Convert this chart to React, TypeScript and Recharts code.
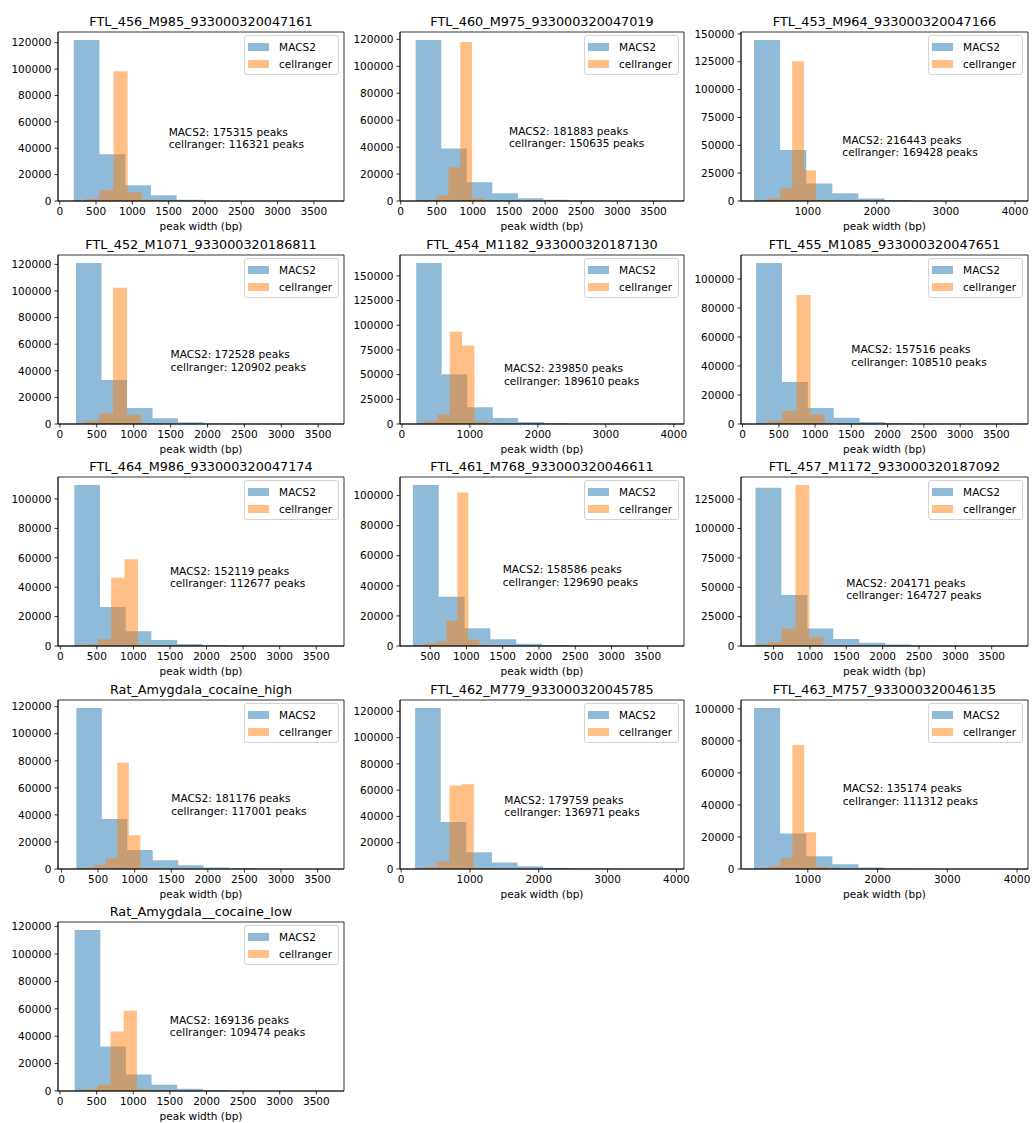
import React from 'react';
import { ComposedChart, Area, XAxis, YAxis, ReferenceArea, ReferenceDot, Legend } from 'recharts';

// ---- data -------------------------------------------------------------

const sampleNames = [
  'FTL_456_M985_933000320047161',
  'FTL_460_M975_933000320047019',
  'FTL_453_M964_933000320047166',
  'FTL_452_M1071_933000320186811',
  'FTL_454_M1182_933000320187130',
  'FTL_455_M1085_933000320047651',
  'FTL_464_M986_933000320047174',
  'FTL_461_M768_933000320046611',
  'FTL_457_M1172_933000320187092',
  'Rat_Amygdala_cocaine_high',
  'FTL_462_M779_933000320045785',
  'FTL_463_M757_933000320046135',
  'Rat_Amygdala__cocaine_low',
];

const macsPeakTotals = [175315, 181883, 216443, 172528, 239850, 157516, 152119, 158586, 204171, 181176, 179759, 135174, 169136];
const cellrangerPeakTotals = [116321, 150635, 169428, 120902, 189610, 108510, 112677, 129690, 164727, 117001, 136971, 111312, 109474];

// min / max peak width (bp) of each call set; 10 equal-width bins span it
const macsWidthRange: [number, number][] = [
  [193, 3736], [208, 3745], [222, 3999], [218, 3674], [210, 3960], [186, 3756], [192, 3702],
  [262, 3822], [250, 3820], [203, 3683], [203, 3923], [230, 3970], [200, 3700],
];
const cellrangerWidthRange: [number, number][] = [
  [155, 2105], [169, 1809], [258, 1978], [150, 2050], [161, 1971], [158, 2108], [146, 1976],
  [271, 1781], [231, 2131], [130, 1710], [171, 1941], [270, 1970], [150, 1950],
];

// peaks per bin
const macsCounts = [
  [122000, 35500, 12000, 4400, 1000, 280, 90, 30, 10, 5],
  [119500, 39000, 14000, 5800, 2000, 900, 400, 180, 80, 23],
  [144500, 45700, 15800, 6900, 2200, 800, 330, 140, 50, 23],
  [121000, 33000, 12000, 4400, 1300, 450, 200, 100, 50, 28],
  [163000, 50500, 17000, 6100, 1900, 700, 350, 180, 90, 30],
  [111000, 29000, 11000, 4300, 1400, 500, 200, 80, 25, 11],
  [109500, 26500, 10000, 4000, 1300, 500, 200, 80, 30, 9],
  [107000, 32800, 11800, 4500, 1500, 600, 250, 90, 35, 11],
  [134800, 43500, 15000, 6000, 2700, 1300, 520, 250, 70, 31],
  [119000, 37000, 14000, 6500, 2700, 1200, 500, 200, 60, 16],
  [122500, 35800, 12800, 5000, 2000, 900, 450, 200, 80, 29],
  [100500, 22200, 8000, 3000, 900, 350, 150, 50, 18, 6],
  [117500, 32500, 12000, 4500, 1700, 600, 220, 80, 28, 8],
];
const cellrangerCounts = [
  [200, 1500, 8300, 98300, 6600, 1000, 300, 80, 30, 11],
  [100, 700, 4000, 25000, 118000, 2200, 400, 150, 60, 25],
  [150, 2400, 11400, 125500, 27500, 1200, 700, 350, 150, 78],
  [200, 2400, 8000, 102500, 7000, 500, 200, 70, 25, 7],
  [300, 3000, 9500, 93500, 79500, 2500, 800, 330, 130, 50],
  [300, 2200, 9000, 89000, 6500, 900, 400, 150, 50, 10],
  [50, 1200, 4600, 46500, 59000, 900, 300, 90, 30, 7],
  [600, 1500, 3000, 17000, 102000, 4200, 900, 300, 150, 40],
  [1200, 3300, 15000, 137000, 7500, 500, 150, 55, 17, 5],
  [100, 1000, 3000, 8000, 78500, 25000, 1000, 300, 80, 21],
  [100, 1700, 5700, 63500, 64500, 1000, 320, 110, 35, 6],
  [80, 1900, 6800, 77500, 23000, 1400, 450, 130, 40, 12],
  [50, 1200, 4500, 43500, 58500, 1200, 380, 110, 28, 6],
];

// tick labels
const xTicksFrom0 = [0, 500, 1000, 1500, 2000, 2500, 3000, 3500];
const xTicksFrom500 = [500, 1000, 1500, 2000, 2500, 3000, 3500];
const xTicksThousands = [0, 1000, 2000, 3000, 4000];
const xTicksFrom1000 = [1000, 2000, 3000, 4000];
const yTicks100k = [0, 20000, 40000, 60000, 80000, 100000];
const yTicks120k = [0, 20000, 40000, 60000, 80000, 100000, 120000];
const yTicks125k = [0, 25000, 50000, 75000, 100000, 125000];
const yTicks150k = [0, 25000, 50000, 75000, 100000, 125000, 150000];

const xTickSets = [
  xTicksFrom0, xTicksFrom0, xTicksFrom1000, xTicksFrom0, xTicksThousands, xTicksFrom0, xTicksFrom0,
  xTicksFrom500, xTicksFrom500, xTicksFrom0, xTicksThousands, xTicksFrom1000, xTicksFrom0,
];
const yTickSets = [
  yTicks120k, yTicks120k, yTicks150k, yTicks120k, yTicks150k, yTicks100k, yTicks100k,
  yTicks100k, yTicks125k, yTicks120k, yTicks120k, yTicks100k, yTicks120k,
];

const seriesNames = ['MACS2', 'cellranger'];
const seriesColors = ['#1f77b4', '#ff7f0e'];

// ---- layout / style ---------------------------------------------------

const FONT = '"DejaVu Sans", Verdana, sans-serif';
const COL_LEFT = [58, 400, 741];
const COL_W = [286, 284, 287];
const ROW_TOP = [32, 255, 477, 700, 922];
const PLOT_H = 169;
const ML = 58; // room for y tick labels
const MR = 16;
const MT = 10; // headroom so the top tick label is not clipped
const XH = 34; // room for x tick labels + axis label
const TICK_FONT = 10.5;

// step-shaped outline of a histogram: one point per bin edge
function histogramPoints(range: [number, number], counts: number[]) {
  const [lo, hi] = range;
  const w = (hi - lo) / counts.length;
  const pts = counts.map((c, i) => ({ x: lo + i * w, y: c }));
  pts.push({ x: hi, y: counts[counts.length - 1] });
  return pts;
}

const LegendBox = () => (
  <div
    style={{
      border: '1px solid #d3d3d3',
      borderRadius: 3,
      background: 'rgba(255,255,255,0.8)',
      padding: '3px 6px 2px 3px',
      fontFamily: FONT,
      fontSize: TICK_FONT,
      color: '#000',
      lineHeight: 1,
    }}
  >
    {seriesNames.map((name, k) => (
      <div key={name} style={{ display: 'flex', alignItems: 'center', height: 16.5 }}>
        <span
          style={{
            display: 'inline-block',
            width: 21,
            height: 8,
            background: seriesColors[k],
            opacity: 0.5,
            marginRight: 10,
          }}
        />
        <span>{name}</span>
      </div>
    ))}
  </div>
);

function Panel({ i }: { i: number }) {
  const row = Math.floor(i / 3);
  const col = i % 3;
  const plotLeft = COL_LEFT[col];
  const plotW = COL_W[col];
  const plotTop = ROW_TOP[row];
  const chartW = ML + plotW + MR;
  const chartH = MT + PLOT_H + XH;

  const macsPts = histogramPoints(macsWidthRange[i], macsCounts[i]);
  const crPts = histogramPoints(cellrangerWidthRange[i], cellrangerCounts[i]);

  const lo = Math.min(macsWidthRange[i][0], cellrangerWidthRange[i][0]);
  const hi = Math.max(macsWidthRange[i][1], cellrangerWidthRange[i][1]);
  const pad = 0.05 * (hi - lo);
  const xDomain: [number, number] = [lo - pad, hi + pad];
  const yTop = 1.05 * Math.max(...macsCounts[i], ...cellrangerCounts[i]);

  const tickStyle = { fontSize: TICK_FONT, fill: '#000', fontFamily: FONT };
  const nMacs = macsPeakTotals[i];
  const nCr = cellrangerPeakTotals[i];

  return (
    <div style={{ position: 'absolute', left: plotLeft - ML, top: plotTop - MT, width: chartW, height: chartH }}>
      <svg
        width={plotW}
        height={30}
        style={{ position: 'absolute', left: ML, top: MT - 30, overflow: 'visible' }}
      >
        <text x={plotW / 2} y={24} textAnchor="middle" fontSize={12.8} fontFamily={FONT} fill="#000">
          {sampleNames[i]}
        </text>
      </svg>
      <ComposedChart width={chartW} height={chartH} margin={{ top: MT, right: MR, bottom: 0, left: 0 }}>
        <XAxis
          type="number"
          dataKey="x"
          domain={xDomain}
          allowDataOverflow
          ticks={xTickSets[i]}
          interval={0}
          height={XH}
          tickSize={3.5}
          tickMargin={3}
          tick={tickStyle}
          tickLine={{ stroke: '#000', strokeWidth: 0.8 }}
          axisLine={{ stroke: '#000', strokeWidth: 0.8 }}
          label={{
            value: 'peak width (bp)',
            position: 'insideBottom',
            offset: 5,
            fontSize: TICK_FONT,
            fill: '#000',
            fontFamily: FONT,
          }}
        />
        <YAxis
          type="number"
          domain={[0, yTop]}
          allowDataOverflow
          ticks={yTickSets[i]}
          interval={0}
          width={ML}
          tickSize={3.5}
          tickMargin={3}
          tick={tickStyle}
          tickLine={{ stroke: '#000', strokeWidth: 0.8 }}
          axisLine={{ stroke: '#000', strokeWidth: 0.8 }}
        />
        <Area
          name={seriesNames[0]}
          data={macsPts}
          dataKey="y"
          type="stepAfter"
          baseValue={0}
          fill={seriesColors[0]}
          fillOpacity={0.5}
          stroke="none"
          dot={false}
          activeDot={false}
          isAnimationActive={false}
        />
        <Area
          name={seriesNames[1]}
          data={crPts}
          dataKey="y"
          type="stepAfter"
          baseValue={0}
          fill={seriesColors[1]}
          fillOpacity={0.5}
          stroke="none"
          dot={false}
          activeDot={false}
          isAnimationActive={false}
        />
        <ReferenceArea
          x1={xDomain[0]}
          x2={xDomain[1]}
          y1={0}
          y2={yTop}
          fill="none"
          fillOpacity={0}
          stroke="#000"
          strokeWidth={0.8}
          ifOverflow="visible"
        />
        <ReferenceDot
          x={1500}
          y={40000}
          r={0}
          ifOverflow="visible"
          shape={(p: any) => (
            <text x={p.cx} y={p.cy} fontSize={10.6} fontFamily={FONT} fill="#000">
              <tspan x={p.cx} dy={-12.5}>{`MACS2: ${nMacs} peaks`}</tspan>
              <tspan x={p.cx} dy={12.5}>{`cellranger: ${nCr} peaks`}</tspan>
            </text>
          )}
        />
        <Legend
          layout="horizontal"
          align="center"
          verticalAlign="middle"
          content={<LegendBox />}
          wrapperStyle={{ top: MT + 3, right: MR + 5, width: 'auto', height: 'auto' }}
        />
      </ComposedChart>
    </div>
  );
}

export default function App() {
  return (
    <div
      style={{
        position: 'absolute',
        left: 0,
        top: 0,
        width: 1033,
        height: 1123,
        background: '#fff',
        overflow: 'hidden',
      }}
    >
      {sampleNames.map((_, i) => (
        <Panel key={i} i={i} />
      ))}
    </div>
  );
}
